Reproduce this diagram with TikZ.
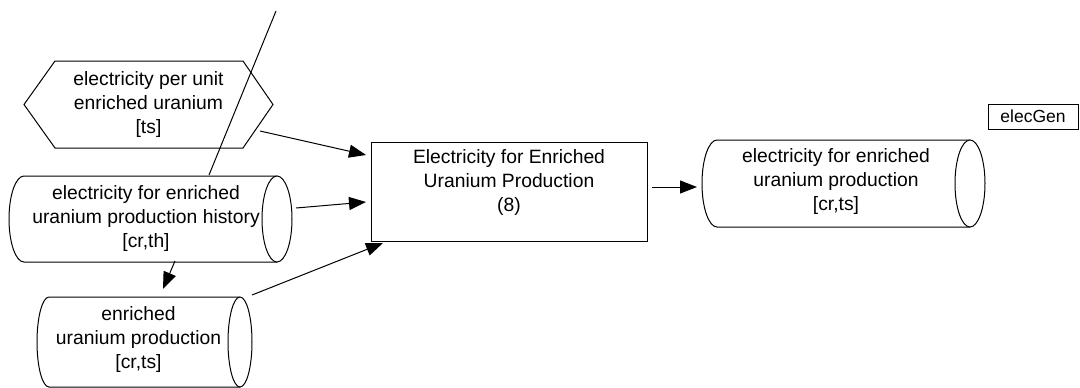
\documentclass[tikz,border=0pt]{standalone}
\usepackage{fontspec}
\setmainfont{Liberation Sans}
\usetikzlibrary{arrows.meta,calc}
\begin{document}
\begin{tikzpicture}[x=1pt,y=-1pt,
  every node/.style={inner sep=0pt,outer sep=0pt,align=center,font=\fontsize{19.3}{24}\selectfont},
  outline/.style={draw=black,line width=1pt},
  conn/.style={draw=black,line width=1pt,-{Triangle[length=17pt,width=13pt]}},
  plainconn/.style={draw=black,line width=1pt}]
\useasboundingbox[fill=white] (0,0) rectangle (1080,388);

% hexagon
\node[minimum width=249pt,minimum height=87pt] (hex) at (148.5,104.5) {electricity per unit\\enriched uranium\\{}[ts]};
\draw[outline] (hex.west) -- ([xshift=31]hex.north west) -- ([xshift=-30]hex.north east) -- (hex.east) -- ([xshift=-30]hex.south east) -- ([xshift=31]hex.south west) -- cycle;

% cylinder: history
\node[minimum width=268pt,minimum height=86pt] (hist) at (146,219) {electricity for enriched\\uranium production history\\{}[cr,th]};
\draw[outline] ([shift={(-3,0)}]hist.north east) -- ([shift={(12,0)}]hist.north west) arc[start angle=270,end angle=90,x radius=15,y radius=43] -- ([shift={(-3,0)}]hist.south east);
\draw[outline,fill=white] ([shift={(-3,0)}]hist.east) ellipse[x radius=15,y radius=43];

% cylinder: production
\node[minimum width=203pt,minimum height=90pt] (prod) at (138.5,340) {enriched\\uranium production\\{}[cr,ts]};
\draw[outline] ([shift={(0,2)}]prod.north east) -- ([shift={(12,2)}]prod.north west) arc[start angle=270,end angle=90,x radius=12,y radius=45] -- ([shift={(0,2)}]prod.south east);
\draw[outline,fill=white] ([shift={(0,2)}]prod.east) ellipse[x radius=12,y radius=45];

% equation box
\node[draw=black,line width=1pt,minimum width=276pt,minimum height=99pt] (eq) at (509,191.5) {};
\node[anchor=north] (eqtext) at ([yshift=-8pt]eq.north) {Electricity for Enriched\\Uranium Production\\(8)};

% cylinder: output
\node[minimum width=268pt,minimum height=87pt] (out) at (836,181.5) {electricity for enriched\\uranium production\\{}[cr,ts]};
\draw[outline] ([shift={(0,2)}]out.north east) -- ([shift={(15,2)}]out.north west) arc[start angle=270,end angle=90,x radius=15,y radius=43.5] -- ([shift={(0,2)}]out.south east);
\draw[outline,fill=white] ([shift={(0,2)}]out.east) ellipse[x radius=15,y radius=43.5];

% elecGen
\node[draw=black,line width=1pt,minimum width=90pt,minimum height=25pt,font=\fontsize{17.5}{20}\selectfont] (gen) at (1033,116.5) {elecGen};

% connectors
\coordinate (topend) at (276,11);
\draw[conn] ([shift={(-13,26.5)}]hex.east) -- ([shift={(-5,13)}]eq.north west);
\draw[conn] ([shift={(16,-11)}]hist.east) -- ([shift={(-5,10.5)}]eq.west);
\draw[conn] ([xshift=12]prod.north east) -- ([shift={(12,2)}]eq.south west);
\draw[conn] ([shift={(29,-1)}]hist.south) -- ([shift={(24.5,-6)}]prod.north);
\draw[conn] ([shift={(5,-4.5)}]eq.east) -- ([shift={(-5,5.5)}]out.west);
\draw[plainconn] ([shift={(63,-1)}]hist.north) -- (topend);
\end{tikzpicture}
\end{document}
